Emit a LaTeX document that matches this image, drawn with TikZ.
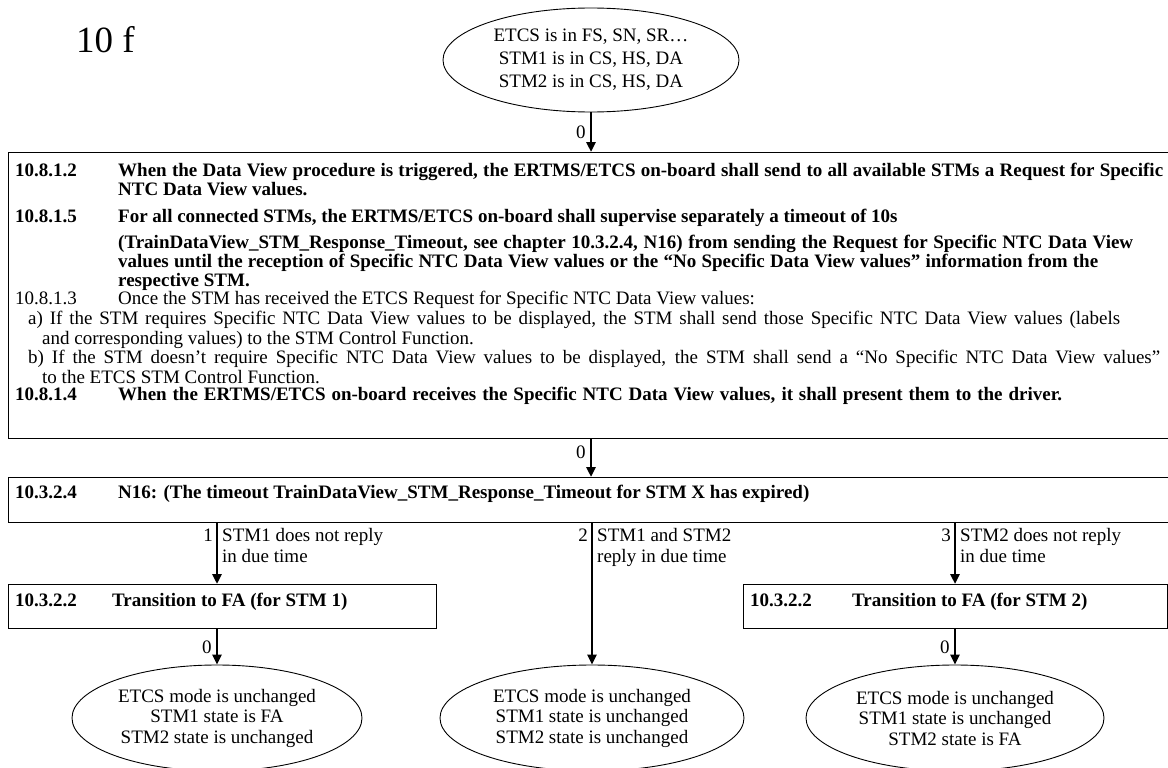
\documentclass[tikz,border=0pt]{standalone}
\usepackage{fontspec}
\setmainfont{Liberation Serif}
\usetikzlibrary{shapes.geometric,arrows.meta}
\newcommand{\spreadto}[2]{\makebox[#1][s]{#2}}
\begin{document}
\begin{tikzpicture}[x=1pt,y=-1pt,
  every node/.style={font=\fontsize{19}{20}\selectfont, inner sep=0pt},
  box/.style={draw, line width=1.3pt, rectangle, anchor=north west},
  oval/.style={draw, ellipse, line width=0.9pt, align=center},
  arr/.style={line width=2.8pt, -{Triangle[length=10pt,width=9pt]}},
  txt/.style={anchor=base west},
  btxt/.style={anchor=base west, font=\fontsize{19}{20}\selectfont\bfseries},
  side/.style={anchor=north west, align=left, font=\fontsize{19}{20.5}\selectfont},
  num/.style={anchor=north east},
  zero/.style={left=4pt}
]
\useasboundingbox (0,0) rectangle (1168,768);
\clip (0,0) rectangle (1168,768);

% title
\node[anchor=west, font=\fontsize{37}{40}\selectfont] (title) at (76,40) {10 f};

% top ellipse
\node[oval, minimum width=296pt, minimum height=104pt, font=\fontsize{19}{23}\selectfont] (e0) at (591,60)
  {ETCS is in FS, SN, SR…\\STM1 is in CS, HS, DA\\STM2 is in CS, HS, DA};

% box 1
\node[box, minimum width=1160pt, minimum height=286pt] (b1) at (8,152) {};
\node[btxt] (n1) at (15,176) {10.8.1.2};
\node[btxt] (t1) at (118,176) {\spreadto{1045pt}{When the Data View procedure is triggered, the ERTMS/ETCS on-board shall send to all available STMs a Request for Specific}};
\node[btxt] (t2) at (118,195) {NTC Data View values.};
\node[btxt] (n3) at (15,222) {10.8.1.5};
\node[btxt] (t3) at (118,222) {For all connected STMs, the ERTMS/ETCS on-board shall supervise separately a timeout of 10s};
\node[btxt] (t4) at (118,248) {\spreadto{1015pt}{(TrainDataView\_STM\_Response\_Timeout, see chapter 10.3.2.4, N16) from sending the Request for Specific NTC Data View}};
\node[btxt] (t5) at (118,267) {\spreadto{980pt}{values until the reception of Specific NTC Data View values or the “No Specific Data View values” information from the}};
\node[btxt] (t6) at (118,286) {respective STM.};
\node[txt] (n7) at (15,304) {10.8.1.3};
\node[txt] (t7) at (118,304) {Once the STM has received the ETCS Request for Specific NTC Data View values:};
\node[txt] (t8) at (28,324) {\spreadto{1092pt}{a) If the STM requires Specific NTC Data View values to be displayed, the STM shall send those Specific NTC Data View values (labels}};
\node[txt] (t9) at (42,344) {and corresponding values) to the STM Control Function.};
\node[txt] (t10) at (28,363) {\spreadto{1132pt}{b) If the STM doesn’t require Specific NTC Data View values to be displayed, the STM shall send a “No Specific NTC Data View values”}};
\node[txt] (t11) at (42,383) {to the ETCS STM Control Function.};
\node[btxt] (n12) at (15,400) {10.8.1.4};
\node[btxt] (t12) at (118,400) {\spreadto{944pt}{When the ERTMS/ETCS on-board receives the Specific NTC Data View values, it shall present them to the driver.}};

% box 2
\node[box, minimum width=1160pt, minimum height=45pt] (b2) at (8,477) {};
\node[btxt] (n13) at (15,498) {10.3.2.4};
\node[btxt] (t13) at (118,498) {N16: (The timeout TrainDataView\_STM\_Response\_Timeout for STM X has expired)};

% box 3 left / right
\node[box, minimum width=428pt, minimum height=44pt] (b3) at (8,584) {};
\node[btxt] (n14) at (15,606) {10.3.2.2};
\node[btxt] (t14) at (112,606) {Transition to FA (for STM 1)};
\node[box, minimum width=424pt, minimum height=44pt] (b4) at (743,584) {};
\node[btxt] (n15) at (750,606) {10.3.2.2};
\node[btxt] (t15) at (852,606) {Transition to FA (for STM 2)};

% bottom ellipses
\node[oval, minimum width=290pt, minimum height=106pt, font=\fontsize{19}{20.5}\selectfont] (e1) at (217,718)
  {ETCS mode is unchanged\\STM1 state is FA\\STM2 state is unchanged};
\node[oval, minimum width=304pt, minimum height=106pt, font=\fontsize{19}{20.5}\selectfont] (e2) at (592,718)
  {ETCS mode is unchanged\\STM1 state is unchanged\\STM2 state is unchanged};
\node[oval, minimum width=298pt, minimum height=106pt, font=\fontsize{19}{20.5}\selectfont] (e3) at (955,718)
  {ETCS mode is unchanged\\STM1 state is unchanged\\STM2 state is FA};

% connectors
\draw[arr] (e0.south) -- node[zero] {0} (e0.south |- b1.north);
\draw[arr] (e0.south |- b1.south) -- node[zero, pos=0.35] {0} (e0.south |- b2.north);
\draw[arr] (e1.north |- b2.south) -- (e1.north |- b3.north);
\draw[arr] (e2.north |- b2.south) -- (e2.north);
\draw[arr] (e3.north |- b2.south) -- (e3.north |- b4.north);
\draw[arr] (e1.north |- b3.south) -- node[zero] {0} (e1.north);
\draw[arr] (e3.north |- b4.south) -- node[zero] {0} (e3.north);

% side labels
\node[num] (l1n) at ([xshift=-4pt,yshift=-5pt]e1.north |- b2.south) {1};
\node[side] (l1) at ([xshift=5pt,yshift=-5pt]e1.north |- b2.south) {STM1 does not reply\\in due time};
\node[num] (l2n) at ([xshift=-4pt,yshift=-5pt]e2.north |- b2.south) {2};
\node[side] (l2) at ([xshift=5pt,yshift=-5pt]e2.north |- b2.south) {STM1 and STM2\\reply in due time};
\node[num] (l3n) at ([xshift=-4pt,yshift=-5pt]e3.north |- b2.south) {3};
\node[side] (l3) at ([xshift=5pt,yshift=-5pt]e3.north |- b2.south) {STM2 does not reply\\in due time};
\end{tikzpicture}
\end{document}
